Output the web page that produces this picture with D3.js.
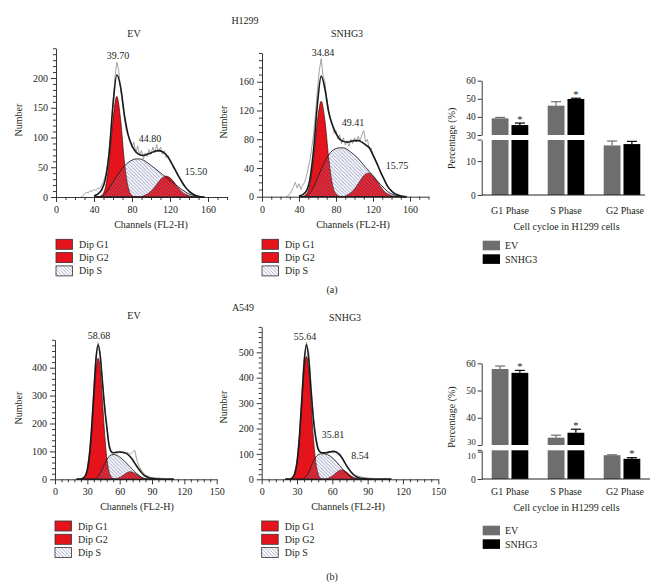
<!DOCTYPE html>
<html><head><meta charset="utf-8">
<script src="https://cdn.jsdelivr.net/npm/d3@7"></script>
<style>
body{margin:0;background:#fff}
svg{display:block}
text{font-family:'Liberation Serif','DejaVu Serif',serif;fill:#231f20}
</style>
</head><body>
<svg id="c" width="672" height="584"></svg>
<script>
// ---------- Histogram data (H1299) ----------
const chTop = [40,44,48,52,56,60,64,68,72,76,80,84,88,92,96,100,104,108,112,116,120,124,128,132,136,140,144,148,152,156];
const rawChTop = [26,28,30,32,34,36,38,40,42,44,46,48,50,52,54,56,58,60,62,64,66,68,70,72,74,76,78,80,82,84,86,88,90,92,94,96,98,100,102,104,106,108,110,112,114,116,118,120,122,124,126,128,130,132,134,136,138,140,142,144,146,148,150,152,154,156];

const g1H1299EV = [0,0.3,2.5,16,59,130,169,130,59,16,2.5,0.3,0,0,0,0,0,0,0,0,0,0,0,0,0,0,0,0,0,0];
const sH1299EV  = [0,0,1,6,15,25,35,44,52,58,62,64,64,62,58,53,48,43,38,33,28,23,18,13,9,5,3,1,0,0];
const g2H1299EV = [0,0,0,0,0,0,0,0,0,0,0,0,0,2,4.7,9.7,17,25.4,32.3,35,32.3,25.4,17,9.7,4.7,2,0.7,0.2,0,0];
const fitH1299EV = [2,5,12,30,75,155,205,185,138,104,86,76,71,70,72,74,77,78,76,71,62,50,38,27,17,10,5,2,0.5,0];
const rawH1299EV = [0,2,5,8,7,11,9,13,11,15,14,19,26,36,52,78,112,158,200,226,214,180,158,132,112,104,96,84,92,74,86,70,78,64,74,68,80,72,84,74,88,76,84,72,78,66,70,58,56,48,44,36,32,25,20,16,12,9,7,5,3,2,1,1,0,0];

const g1H1299SN = [0,0.5,3.8,18,55,106,133,106,55,18,3.8,0.5,0,0,0,0,0,0,0,0,0,0,0,0,0,0,0,0,0,0];
const sH1299SN  = [0,0,1,5,14,26,38,49,58,64,67,68,68,66,62,58,53,47,41,35,29,23,17,12,7,4,2,1,0,0];
const g2H1299SN = [0,0,0,0,0,0,0,0,0,0,0,0,0,2.3,5.4,10.7,18,25.8,31.5,32.8,29.1,22,14.2,7.8,3.6,1.5,0.5,0.1,0,0];
const fitH1299SN = [1,3,8,26,68,130,168,150,118,100,88,80,77,76,77,78,78,76,72,68,58,47,35,24,14,8,4,2,0.5,0];
const rawH1299SN = [0,1,4,8,14,20,12,18,10,16,20,28,40,52,70,90,118,150,176,192,168,160,138,122,108,102,88,92,80,86,74,82,72,78,70,80,74,82,76,84,78,86,92,76,80,66,68,58,54,46,42,34,30,24,18,14,10,7,6,4,3,2,1,1,0,0];

// ---------- Histogram data (A549) ----------
const chBot = [20,22,24,26,28,30,32,34,36,38,40,42,44,46,48,50,52,54,56,58,60,62,64,66,68,70,72,74,76,78,80,82,84,86,88,90,92,94,96,98,100,102,104,106,108,110];

const g1A549EV = [0,0,0.4,2.2,8.9,29,77,164,282,390,434,390,282,164,77,29,8.9,2.2,0.4,0,0,0,0,0,0,0,0,0,0,0,0,0,0,0,0,0,0,0,0,0,0,0,0,0,0,0];
const sA549EV  = [0,0,0,0,0,0,0,0,0,3,10,22,38,55,70,81,87,89,88,85,80,74,67,59,51,43,35,27,20,14,8,4,1,0,0,0,0,0,0,0,0,0,0,0,0,0];
const g2A549EV = [0,0,0,0,0,0,0,0,0,0,0,0,0,0,0,0,0,0.8,1.8,3.7,6.7,11.1,16.4,21.6,25.5,27,25.5,21.6,16.4,11.1,6.7,3.7,1.8,0.8,0.3,0,0,0,0,0,0,0,0,0,0,0];
const fitA549EV = [0,0,1,4,12,35,90,185,310,430,482,440,350,260,190,125,100,95,96,98,98,97,96,93,88,80,70,58,46,35,25,17,11,7,4,3,2,1,1,0.5,0,0,0,0,0,0];
const rawA549EV = [0,1,2,5,14,38,96,190,318,440,490,452,350,266,188,128,102,94,98,92,100,96,92,98,94,90,98,104,68,46,34,22,15,12,8,6,7,4,5,3,4,2,3,1,2,0];

const g1A549SN = [0,0,1,5.4,21,65,157,293,426,483,426,293,157,65,21,5.4,1,0,0,0,0,0,0,0,0,0,0,0,0,0,0,0,0,0,0,0,0,0,0,0,0,0,0,0,0,0];
const sA549SN  = [0,0,0,0,0,0,0,0,3,12,28,50,72,88,97,100,101,100,97,92,85,76,66,55,44,33,23,15,8,4,1,0,0,0,0,0,0,0,0,0,0,0,0,0,0,0];
const g2A549SN = [0,0,0,0,0,0,0,0,0,0,0,0,0,0,0,0,0.5,1.4,3.4,7.1,12.8,20.4,28.4,34.6,37,34.6,28.4,20.4,12.8,7.1,3.4,1.4,0.5,0,0,0,0,0,0,0,0,0,0,0,0,0];
const fitA549SN = [0,0,1,6,22,68,165,310,455,530,470,345,233,160,118,106,104,104,106,108,110,109,106,98,86,70,54,40,28,18,11,7,4,3,2,1,1,0,0,0,0,0,0,0,0,0];
const rawA549SN = [0,0,2,7,24,70,170,320,480,540,500,360,240,168,124,108,100,106,100,110,104,112,100,94,84,72,56,44,30,22,16,12,10,8,6,5,4,4,3,2,2,1,1,0,0,0];

// ---------- Histogram labels ----------
const phaseLabelsH1299EV = ["39.70","44.80","15.50"];
const phaseLabelsH1299SN = ["34.84","49.41","15.75"];
const phaseLabelsA549EV = ["58.68"];
const phaseLabelsA549SN = ["55.64","35.81","8.54"];
const legendLabels = ["Dip G1","Dip G2","Dip S"];

// ---------- Bar chart data ----------
const phases = ["G1 Phase","S Phase","G2 Phase"];
const groups = ["EV","SNHG3"];
const barH1299EV = [39.2, 46.2, 14.6];
const errH1299EV = [0.5, 2.2, 1.3];
const barH1299SN = [35.5, 49.9, 15.0];
const errH1299SN = [1.1, 0.4, 0.8];
const sigH1299 = [true, true, false];
const barA549EV = [57.9, 32.7, 8.7];
const errA549EV = [1.1, 0.9, 0.15];
const barA549SN = [56.5, 34.5, 7.4];
const errA549SN = [0.9, 1.3, 0.4];
const sigA549 = [true, true, true];
const upperTicks = [30, 40, 50, 60];
const lowerTicks = [0, 10];

// ---------- Drawing ----------
const svg = d3.select('#c');
const defs = svg.append('defs');
const pat = defs.append('pattern').attr('id','hatch').attr('patternUnits','userSpaceOnUse')
  .attr('width',3.5).attr('height',3.5);
pat.append('path').attr('d','M-1,-1L4.5,4.5M-1,2.5L1,4.5M2.5,-1L4.5,1')
  .attr('stroke','#7880b0').attr('stroke-width',0.65);

const RED = '#e5141c', EDGE = '#3a0808';

function text(x, y, s, size, anchor, extra) {
  const t = svg.append('text').attr('x', x).attr('y', y).attr('font-size', size)
    .attr('text-anchor', anchor || 'middle').text(s);
  if (extra) extra(t);
  return t;
}

function styleAxis(g, fs) {
  g.selectAll('path,line').attr('stroke','#231f20').attr('stroke-width',0.9);
  g.selectAll('text').attr('font-size', fs).attr('font-family',"'Liberation Serif','DejaVu Serif',serif").attr('fill','#231f20');
  g.attr('font-family', null);
}

function histogram(p) {
  const x = d3.scaleLinear().domain(p.xDomain).range(p.xRange);
  const y = d3.scaleLinear().domain(p.yDomain).range(p.yRange);
  const g = svg.append('g');
  const area = d3.area().x((d,i)=>x(p.ch[i])).y0(y(0)).y1(d=>y(d)).curve(d3.curveMonotoneX);
  const line = d3.line().x((d,i)=>x(p.ch[i])).y(d=>y(d)).curve(d3.curveMonotoneX);
  const rawLine = d3.line().x((d,i)=>x(p.rawCh[i])).y(d=>y(d));

  g.append('path').attr('d', area(p.s)).attr('fill','#f5f5fa');
  g.append('path').attr('d', area(p.g1)).attr('fill',RED).attr('stroke',EDGE).attr('stroke-width',0.7);
  g.append('path').attr('d', area(p.g2)).attr('fill',RED).attr('stroke',EDGE).attr('stroke-width',0.7);
  g.append('path').attr('d', area(p.s)).attr('fill','url(#hatch)').attr('stroke','#222').attr('stroke-width',0.9);
  g.append('path').attr('d', rawLine(p.raw)).attr('fill','none').attr('stroke','#8a8a8a').attr('stroke-width',0.8);
  g.append('path').attr('d', line(p.fit)).attr('fill','none').attr('stroke','#1a1a1a').attr('stroke-width',1.6);

  // axes
  const yAx = g.append('g').attr('transform',`translate(${p.xRange[0]},0)`)
    .call(d3.axisLeft(y).tickValues(p.yMajor).tickSize(5).tickSizeOuter(0).tickPadding(3));
  styleAxis(yAx, 10);
  const yMin = g.append('g').attr('transform',`translate(${p.xRange[0]},0)`)
    .call(d3.axisLeft(y).tickValues(p.yMinor).tickSize(3).tickFormat(''));
  yMin.select('.domain').remove(); styleAxis(yMin, 10);
  const xAx = g.append('g').attr('transform',`translate(0,${p.yRange[0]})`)
    .call(d3.axisBottom(x).tickValues(p.xMajor).tickSize(5).tickSizeOuter(0).tickPadding(4));
  styleAxis(xAx, 10);
  const xMin = g.append('g').attr('transform',`translate(0,${p.yRange[0]})`)
    .call(d3.axisBottom(x).tickValues(p.xMinor).tickSize(3).tickFormat(''));
  xMin.select('.domain').remove(); styleAxis(xMin, 10);

  text(p.xLabelX, p.yRange[0] + 31, 'Channels (FL2-H)', 10);
  text(p.yLabelX, p.yLabelY, 'Number', 10, 'middle', t => t.attr('transform',`rotate(-90,${p.yLabelX},${p.yLabelY})`));
  text(p.titleX, p.titleY, p.title, 10);
  p.labels.forEach((s,i) => text(p.labelPos[i][0], p.labelPos[i][1], s, 10));

  // legend
  legendLabels.forEach((s,i) => {
    const yy = p.legendY + i*13.3;
    svg.append('rect').attr('x', p.xRange[0]).attr('y', yy).attr('width', 16.5).attr('height', 10)
      .attr('fill', i < 2 ? RED : 'url(#hatch)').attr('stroke', '#333').attr('stroke-width', 0.8);
    text(p.xRange[0] + 23, yy + 8.5, s, 10, 'start');
  });
}

const topXMajor = [0,40,80,120,160];
const topXMinor = [10,20,30,50,60,70,90,100,110,130,140,150,170,180];
const botXMajor = [0,30,60,90,120,150];
const botXMinor = [6,12,18,24,36,42,48,54,66,72,78,84,96,102,108,114,126,132,138,144];

histogram({ch: chTop, rawCh: rawChTop, g1: g1H1299EV, s: sH1299EV, g2: g2H1299EV, fit: fitH1299EV, raw: rawH1299EV,
  xDomain:[0,180], xRange:[56,227], yDomain:[0,250], yRange:[197,48.25],
  yMajor:[0,50,100,150,200], yMinor:[10,20,30,40,60,70,80,90,110,120,130,140,160,170,180,190,210,220,230,240,250],
  xMajor: topXMajor, xMinor: topXMinor,
  xLabelX:151, yLabelX:22, yLabelY:120, title:'EV', titleX:134, titleY:37,
  labels: phaseLabelsH1299EV, labelPos:[[118,58.5],[150,141.5],[196,174.5]], legendY:239.3});

histogram({ch: chTop, rawCh: rawChTop, g1: g1H1299SN, s: sH1299SN, g2: g2H1299SN, fit: fitH1299SN, raw: rawH1299SN,
  xDomain:[0,180], xRange:[262,428.5], yDomain:[0,200], yRange:[196.7,53],
  yMajor:[0,40,80,120,160], yMinor:[10,20,30,50,60,70,90,100,110,130,140,150,170,180,190,200],
  xMajor: topXMajor, xMinor: topXMinor,
  xLabelX:353, yLabelX:227, yLabelY:122, title:'SNHG3', titleX:347, titleY:37,
  labels: phaseLabelsH1299SN, labelPos:[[323,55.5],[353,126],[397,169]], legendY:239.3});

histogram({ch: chBot, rawCh: chBot, g1: g1A549EV, s: sA549EV, g2: g2A549EV, fit: fitA549EV, raw: rawA549EV,
  xDomain:[0,150], xRange:[55,216.7], yDomain:[0,500], yRange:[479.3,339.8],
  yMajor:[0,100,200,300,400], yMinor:[20,40,60,80,120,140,160,180,220,240,260,280,320,340,360,380,420,440,460,480,500],
  xMajor: botXMajor, xMinor: botXMinor,
  xLabelX:137, yLabelX:22, yLabelY:408, title:'EV', titleX:134, titleY:318.5,
  labels: phaseLabelsA549EV, labelPos:[[99,339]], legendY:521});

histogram({ch: chBot, rawCh: chBot, g1: g1A549SN, s: sA549SN, g2: g2A549SN, fit: fitA549SN, raw: rawA549SN,
  xDomain:[0,150], xRange:[261.7,438.3], yDomain:[0,600], yRange:[479.3,326.9],
  yMajor:[0,100,200,300,400,500], yMinor:[20,40,60,80,120,140,160,180,220,240,260,280,320,340,360,380,420,440,460,480,520,540,560,580,600],
  xMajor: botXMajor, xMinor: botXMinor,
  xLabelX:348, yLabelX:227, yLabelY:407, title:'SNHG3', titleX:345, titleY:320.5,
  labels: phaseLabelsA549SN, labelPos:[[305,339.5],[333,437.5],[360,458.5]], legendY:521});

text(245, 23.5, 'H1299', 10);
text(243, 310.5, 'A549', 10);
text(332, 293, '(a)', 10);
text(332, 580, '(b)', 10);

// ---------- Bar charts ----------
function barChart(p) {
  const x0 = d3.scaleBand().domain(phases).range([482, 650]).padding(0);
  const x1 = d3.scaleBand().domain(groups).range([9.7, 46.3]).paddingInner(0.15);
  const yU = d3.scaleLinear().domain([30,60]).range(p.upRange);
  const yL = d3.scaleLinear().domain([0,p.loMax]).range(p.loRange);
  const colors = {EV:'#6e6e6e', SNHG3:'#000'};
  const g = svg.append('g');
  const series = [{k:'EV', v:p.ev, e:p.evErr}, {k:'SNHG3', v:p.sn, e:p.snErr}];
  series.forEach(sr => {
    phases.forEach((ph, i) => {
      const v = sr.v[i], e = sr.e[i];
      const bx = x0(ph) + x1(sr.k), w = x1.bandwidth();
      let top;
      if (v > 30) {
        g.append('rect').attr('x',bx).attr('y',yL(p.loMax)).attr('width',w).attr('height',yL(0)-yL(p.loMax)).attr('fill',colors[sr.k]);
        g.append('rect').attr('x',bx).attr('y',yU(v)).attr('width',w).attr('height',yU(30)-yU(v)).attr('fill',colors[sr.k]);
        top = [yU(v), yU(v+e)];
      } else {
        g.append('rect').attr('x',bx).attr('y',yL(v)).attr('width',w).attr('height',yL(0)-yL(v)).attr('fill',colors[sr.k]);
        top = [yL(v), yL(v+e)];
      }
      const cx = bx + w/2;
      g.append('line').attr('x1',cx).attr('x2',cx).attr('y1',top[0]).attr('y2',top[1]).attr('stroke',colors[sr.k]).attr('stroke-width',1.2);
      g.append('line').attr('x1',cx-5).attr('x2',cx+5).attr('y1',top[1]).attr('y2',top[1]).attr('stroke',colors[sr.k]).attr('stroke-width',1.2);
      if (sr.k === 'SNHG3' && p.sig[i]) text(cx, top[1] - 0.5, '*', 10.5);
    });
  });
  const yUa = g.append('g').attr('transform','translate(481.7,0)')
    .call(d3.axisLeft(yU).tickValues(upperTicks).tickSize(4).tickSizeOuter(0).tickPadding(2));
  styleAxis(yUa, 9.5);
  const yLa = g.append('g').attr('transform','translate(481.7,0)')
    .call(d3.axisLeft(yL).tickValues(lowerTicks).tickSize(4).tickSizeOuter(0).tickPadding(2));
  styleAxis(yLa, 9.5);
  if (p.tight) {
    yUa.selectAll('.tick').filter(d => d === 30).select('text').attr('dy','-0.05em').attr('font-size',8.5);
    yLa.selectAll('.tick').filter(d => d === 10).select('text').attr('dy','0.85em').attr('font-size',8.5);
  }
  g.append('line').attr('x1',477.7).attr('x2',481.7).attr('y1',p.loRange[1]).attr('y2',p.loRange[1]).attr('stroke','#231f20').attr('stroke-width',0.9);
  g.append('line').attr('x1',481.7).attr('x2',p.xEnd).attr('y1',p.loRange[0]).attr('y2',p.loRange[0]).attr('stroke','#231f20').attr('stroke-width',1);
  phases.forEach(ph => text(x0(ph) + 28 + (ph==='G2 Phase'?3:0), p.catY, ph, 10));
  text(566.5, p.catY + 15.5, 'Cell cycloe in H1299 cells', 10);
  text(455, p.yLabelY, 'Percentage (%)', 10, 'middle', t => t.attr('transform',`rotate(-90,455,${p.yLabelY})`));
  groups.forEach((gk, i) => {
    svg.append('rect').attr('x',482.7).attr('y',p.legendY + i*13.6).attr('width',17.3).attr('height',9.6).attr('fill',colors[gk]);
    text(505, p.legendY + i*13.6 + 8.5, gk, 10, 'start');
  });
}

barChart({ev: barH1299EV, evErr: errH1299EV, sn: barH1299SN, snErr: errH1299SN, sig: sigH1299,
  upRange:[135,80.7], loMax:16.2, loRange:[195,140], xEnd:645, catY:214, yLabelY:138.3, legendY:240.7, tight:false});
barChart({ev: barA549EV, evErr: errA549EV, sn: barA549SN, snErr: errA549SN, sig: sigA549,
  upRange:[445,363.3], loMax:10.5, loRange:[479,450.3], xEnd:650, catY:495, yLabelY:417, legendY:525.7, tight:true});
</script>
</body></html>
